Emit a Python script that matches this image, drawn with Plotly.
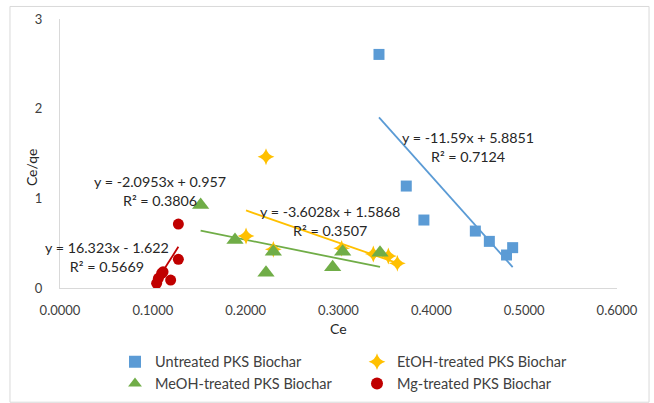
import numpy as np
import plotly.graph_objects as go

# ---- data ----
untreated_ce = [0.3436, 0.3730, 0.3920, 0.4474, 0.4625, 0.4810, 0.4876]
untreated_y = [2.605, 1.137, 0.758, 0.635, 0.520, 0.368, 0.450]

etoh_ce = [0.2004, 0.2219, 0.2298, 0.3034, 0.3375, 0.3537, 0.3634]
etoh_y = [0.580, 1.464, 0.431, 0.442, 0.379, 0.357, 0.275]

meoh_ce = [0.1515, 0.1885, 0.2219, 0.2298, 0.2937, 0.3045, 0.3447]
meoh_y = [0.925, 0.535, 0.171, 0.405, 0.231, 0.405, 0.394]

mg_ce = [0.1041, 0.1060, 0.1095, 0.1110, 0.1192, 0.1275, 0.1275]
mg_y = [0.052, 0.108, 0.164, 0.180, 0.089, 0.320, 0.713]

series_names = ["Untreated PKS Biochar", "EtOH-treated PKS Biochar",
                "MeOH-treated PKS Biochar", "Mg-treated PKS Biochar"]
slopes = [-11.59, -3.6028, -2.0953, 16.323]
intercepts = [5.8851, 1.5868, 0.957, -1.622]
eq_labels = ["y = -11.59x + 5.8851<br>R² = 0.7124",
             "y = -3.6028x + 1.5868<br>R² = 0.3507",
             "y = -2.0953x + 0.957<br>R² = 0.3806",
             "y = 16.323x - 1.622<br>R² = 0.5669"]
eq_pos = [(0.440, 1.57), (0.291, 0.75), (0.1075, 1.08), (0.051, 0.35)]

x_ticks = [0.0, 0.1, 0.2, 0.3, 0.4, 0.5, 0.6]
y_ticks = [0, 1, 2, 3]

colors = ["#5B9BD5", "#FFC000", "#70AD47", "#C00000"]
symbols = ["square", "star-diamond", "triangle-up", "circle"]
sizes = [11, 12, 15, 11]

FONT = "Lato"
fig = go.Figure()

xs = [untreated_ce, etoh_ce, meoh_ce, mg_ce]
ys = [untreated_y, etoh_y, meoh_y, mg_y]

# trendlines (drawn below markers)
for i in range(4):
    x0, x1 = min(xs[i]), max(xs[i])
    tx = np.array([x0, x1])
    ty = slopes[i] * tx + intercepts[i]
    fig.add_trace(go.Scatter(x=tx, y=ty, mode="lines",
                             line=dict(color=colors[i], width=1.8),
                             showlegend=False, hoverinfo="skip"))

for i in range(4):
    fig.add_trace(go.Scatter(x=xs[i], y=ys[i], mode="markers", name=series_names[i],
                             marker=dict(color=colors[i], symbol=symbols[i], size=sizes[i],
                                         line=dict(width=0))))

for i in range(4):
    fig.add_annotation(x=eq_pos[i][0], y=eq_pos[i][1], text=eq_labels[i],
                       showarrow=False, xanchor="center", yanchor="middle",
                       font=dict(family=FONT, size=14.3, color="#262626"),
                       align="center")

# axis titles
fig.add_annotation(x=0.5, y=-0.15, xref="paper", yref="paper", text="Ce",
                   showarrow=False, font=dict(family=FONT, size=14, color="#262626"),
                   xanchor="center", yanchor="middle")
fig.add_annotation(x=-0.05, y=0.45, xref="paper", yref="paper", text="Ce/qe",
                   textangle=-90, showarrow=False,
                   font=dict(family=FONT, size=14, color="#262626"),
                   xanchor="center", yanchor="middle")

# chart border
fig.add_shape(type="rect", xref="paper", yref="paper",
              x0=-0.0898, x1=1.0575, y0=-0.4246, y1=1.0466,
              line=dict(color="#D9D9D9", width=1), fillcolor="rgba(0,0,0,0)", layer="below")

fig.update_layout(
    width=654, height=403,
    margin=dict(l=60, r=37, t=19, b=115, autoexpand=False),
    paper_bgcolor="white", plot_bgcolor="white",
    font=dict(family=FONT, size=13, color="#404040"),
    showlegend=True,
    legend=dict(orientation="h", x=115 / 654, y=0.142, xref="container", yref="container",
                xanchor="left", yanchor="top",
                entrywidth=197, entrywidthmode="pixels",
                font=dict(family=FONT, size=14.5, color="#404040"),
                itemsizing="constant", bgcolor="rgba(0,0,0,0)"),
    xaxis=dict(range=[0, 0.6], tickvals=x_ticks, tickformat=".4f",
               showgrid=False, zeroline=False, showline=True, linecolor="#D9D9D9",
               linewidth=1, ticks="outside", ticklen=10, tickcolor="rgba(0,0,0,0)",
               tickfont=dict(family=FONT, size=13, color="#404040")),
    yaxis=dict(range=[0, 3], tickvals=y_ticks, showgrid=False, zeroline=False,
               showline=True, linecolor="#D9D9D9", linewidth=1, ticks="outside",
               ticklen=14, tickcolor="rgba(0,0,0,0)",
               tickfont=dict(family=FONT, size=13, color="#404040")),
)

fig.write_html("out.html")
